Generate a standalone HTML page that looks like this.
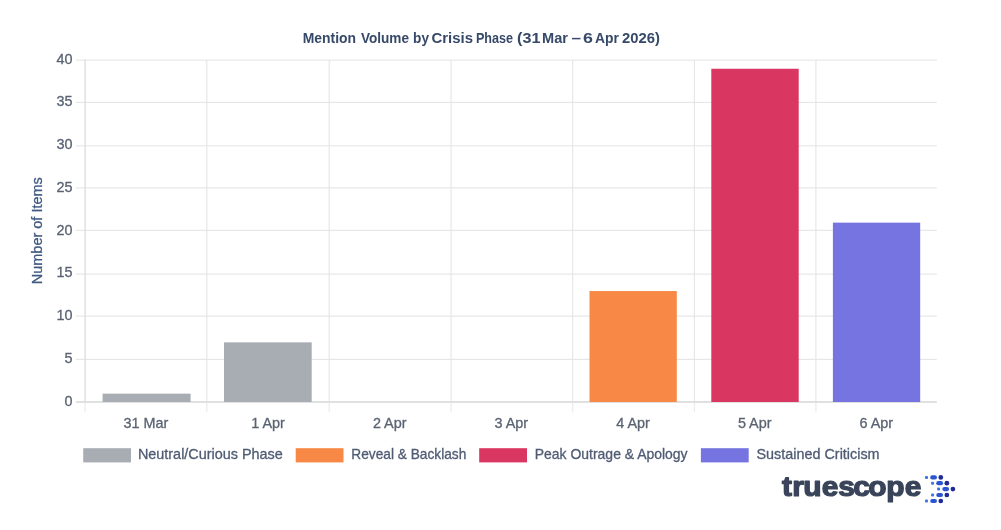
<!DOCTYPE html>
<html><head><meta charset="utf-8"><title>Mention Volume by Crisis Phase</title>
<style>html,body{margin:0;padding:0;background:#fff;overflow:hidden}body{width:1001px;height:530px}</style></head>
<body>
<svg width="1001" height="530" viewBox="0 0 1001 530" style="display:block">
<rect width="1001" height="530" fill="#fff"/>
<rect x="75.80" y="358.85" width="861.00" height="1.1" fill="#e5e5e5"/>
<rect x="75.80" y="315.55" width="861.00" height="1.1" fill="#e5e5e5"/>
<rect x="75.80" y="273.55" width="861.00" height="1.1" fill="#e5e5e5"/>
<rect x="75.80" y="229.80" width="861.00" height="1.1" fill="#e5e5e5"/>
<rect x="75.80" y="187.35" width="861.00" height="1.1" fill="#e5e5e5"/>
<rect x="75.80" y="145.30" width="861.00" height="1.1" fill="#e5e5e5"/>
<rect x="75.80" y="101.85" width="861.00" height="1.1" fill="#e5e5e5"/>
<rect x="75.80" y="59.60" width="861.00" height="1.1" fill="#e5e5e5"/>
<rect x="84.45" y="59.40" width="1.3" height="342.60" fill="#dcdcdc"/>
<rect x="84.50" y="402" width="1.2" height="10.2" fill="#ececec"/>
<rect x="206.25" y="60.00" width="1.1" height="342.00" fill="#e5e5e5"/>
<rect x="206.20" y="402" width="1.2" height="10.2" fill="#ececec"/>
<rect x="328.65" y="60.00" width="1.1" height="342.00" fill="#e5e5e5"/>
<rect x="328.60" y="402" width="1.2" height="10.2" fill="#ececec"/>
<rect x="450.55" y="60.00" width="1.1" height="342.00" fill="#e5e5e5"/>
<rect x="450.50" y="402" width="1.2" height="10.2" fill="#ececec"/>
<rect x="572.15" y="60.00" width="1.1" height="342.00" fill="#e5e5e5"/>
<rect x="572.10" y="402" width="1.2" height="10.2" fill="#ececec"/>
<rect x="693.85" y="60.00" width="1.1" height="342.00" fill="#e5e5e5"/>
<rect x="693.80" y="402" width="1.2" height="10.2" fill="#ececec"/>
<rect x="815.35" y="60.00" width="1.1" height="342.00" fill="#e5e5e5"/>
<rect x="815.30" y="402" width="1.2" height="10.2" fill="#ececec"/>
<rect x="75.80" y="401.05" width="861.00" height="1.85" fill="#dedede"/>
<rect x="102.60" y="393.65" width="88.00" height="8.35" fill="#a8adb4"/>
<rect x="224.00" y="342.35" width="87.70" height="59.65" fill="#a8adb4"/>
<rect x="589.50" y="291.05" width="87.30" height="110.95" fill="#f78846"/>
<rect x="711.30" y="68.75" width="87.40" height="333.25" fill="#d93662"/>
<rect x="832.90" y="222.65" width="87.30" height="179.35" fill="#7674e0"/>
<g font-family="'Liberation Sans', sans-serif" font-size="14.4" fill="#5a6372" stroke="#5a6372" stroke-width="0.3" text-anchor="end">
<text transform="translate(72.6 405.50)">0</text>
<text transform="translate(72.6 362.75)">5</text>
<text transform="translate(72.6 320.00)">10</text>
<text transform="translate(72.6 277.25)">15</text>
<text transform="translate(72.6 234.50)">20</text>
<text transform="translate(72.6 191.75)">25</text>
<text transform="translate(72.6 149.00)">30</text>
<text transform="translate(72.6 106.25)">35</text>
<text transform="translate(72.6 63.50)">40</text>
</g>
<g font-family="'Liberation Sans', sans-serif" font-size="14.4" fill="#5a6372" stroke="#5a6372" stroke-width="0.3" text-anchor="middle">
<text transform="translate(145.94 428)">31 Mar</text>
<text transform="translate(268.01 428)">1 Apr</text>
<text transform="translate(389.68 428)">2 Apr</text>
<text transform="translate(511.35 428)">3 Apr</text>
<text transform="translate(633.02 428)">4 Apr</text>
<text transform="translate(754.69 428)">5 Apr</text>
<text transform="translate(876.36 428)">6 Apr</text>
</g>
<text y="42.5" font-family="'Liberation Sans', sans-serif" font-weight="bold" font-size="14.2" fill="#364968"><tspan x="302.7" textLength="53.3" lengthAdjust="spacingAndGlyphs">Mention</tspan> <tspan x="360.9" textLength="48.1" lengthAdjust="spacingAndGlyphs">Volume</tspan> <tspan x="413.1" textLength="15.9" lengthAdjust="spacingAndGlyphs">by</tspan> <tspan x="431.5" textLength="41.5" lengthAdjust="spacingAndGlyphs">Crisis</tspan> <tspan x="475.9" textLength="37.1" lengthAdjust="spacingAndGlyphs">Phase</tspan> <tspan x="517.1" textLength="23.4" lengthAdjust="spacingAndGlyphs">(31</tspan> <tspan x="542.1" textLength="25.9" lengthAdjust="spacingAndGlyphs">Mar</tspan> <tspan x="571.5" textLength="9.5" lengthAdjust="spacingAndGlyphs">–</tspan> <tspan x="583.1" textLength="9.9" lengthAdjust="spacingAndGlyphs">6</tspan> <tspan x="595.1" textLength="23.9" lengthAdjust="spacingAndGlyphs">Apr</tspan> <tspan x="622.1" textLength="37.9" lengthAdjust="spacingAndGlyphs">2026)</tspan></text>
<text transform="translate(42.3 230.7) rotate(-90)" text-anchor="middle" font-family="'Liberation Sans', sans-serif" font-size="14.4" fill="#415a80" stroke="#415a80" stroke-width="0.3" textLength="107" lengthAdjust="spacingAndGlyphs">Number of Items</text>
<g font-family="'Liberation Sans', sans-serif" font-size="14.4" fill="#4f5b73" stroke="#4f5b73" stroke-width="0.3">
<rect x="83.2" y="448.2" width="47.8" height="14.2" fill="#a8adb4" stroke="none"/>
<text transform="translate(137.9 458.5)" textLength="144.9" lengthAdjust="spacingAndGlyphs">Neutral/Curious Phase</text>
<rect x="295.7" y="448.2" width="47.8" height="14.2" fill="#f78846" stroke="none"/>
<text transform="translate(351.3 458.5)" textLength="115" lengthAdjust="spacingAndGlyphs">Reveal &amp; Backlash</text>
<rect x="479.2" y="448.2" width="47.8" height="14.2" fill="#d93662" stroke="none"/>
<text transform="translate(534.8 458.5)" textLength="152.8" lengthAdjust="spacingAndGlyphs">Peak Outrage &amp; Apology</text>
<rect x="700.9" y="448.2" width="47.8" height="14.2" fill="#7674e0" stroke="none"/>
<text transform="translate(756.5 458.5)" textLength="123.1" lengthAdjust="spacingAndGlyphs">Sustained Criticism</text>
</g>
<text transform="scale(1.09 1)" x="717.43 726.94 737.00 754.02 769.06 782.83 796.64 813.15 830.07" y="496.5" font-family="'Liberation Sans', sans-serif" font-weight="bold" font-size="27.5" fill="#39445a" stroke="#39445a" stroke-width="1.2" stroke-linejoin="round">truescope</text>
<rect x="925.00" y="475.90" width="3" height="3" rx="1" fill="#3f74dc"/>
<rect x="930.20" y="475.30" width="6.8" height="4.2" rx="2.1" fill="#2b55cf"/>
<circle cx="940.80" cy="477.40" r="2.35" fill="#1f2a96"/>
<rect x="931.05" y="481.70" width="3" height="3" rx="1" fill="#3f74dc"/>
<rect x="936.25" y="481.10" width="6.8" height="4.2" rx="2.1" fill="#2b55cf"/>
<circle cx="946.85" cy="483.20" r="2.35" fill="#1f2a96"/>
<rect x="937.10" y="487.60" width="3" height="3" rx="1" fill="#3f74dc"/>
<rect x="942.30" y="487.00" width="6.8" height="4.2" rx="2.1" fill="#2b55cf"/>
<circle cx="952.90" cy="489.10" r="2.35" fill="#1f2a96"/>
<rect x="931.05" y="493.50" width="3" height="3" rx="1" fill="#3f74dc"/>
<rect x="936.25" y="492.90" width="6.8" height="4.2" rx="2.1" fill="#2b55cf"/>
<circle cx="946.85" cy="495.00" r="2.35" fill="#1f2a96"/>
<rect x="925.00" y="499.50" width="3" height="3" rx="1" fill="#3f74dc"/>
<rect x="930.20" y="498.90" width="6.8" height="4.2" rx="2.1" fill="#2b55cf"/>
<circle cx="940.80" cy="501.00" r="2.35" fill="#1f2a96"/>
</svg>
</body></html>
